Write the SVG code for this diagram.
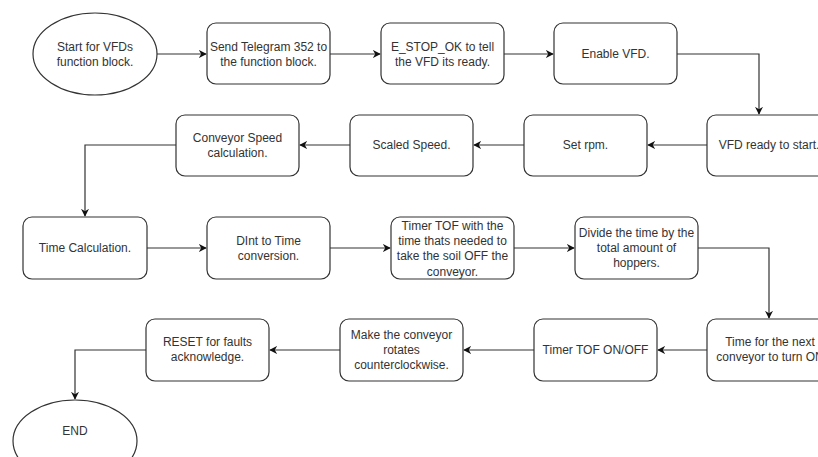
<svg xmlns="http://www.w3.org/2000/svg" width="818" height="457" viewBox="0 0 818 457">
<defs>
<style>
.n{fill:#fff;stroke:#333;stroke-width:1.2}
.t{font-family:"Liberation Sans",Arial,sans-serif;font-size:12px;fill:#333;text-anchor:middle}
.c{fill:none;stroke:#333;stroke-width:1.2;marker-end:url(#a)}
</style>
<marker id="a" viewBox="0 0 10 10" refX="9" refY="5" markerWidth="8" markerHeight="8" markerUnits="userSpaceOnUse" orient="auto">
<path d="M0,0 L10,5 L0,10 L3,5 Z" fill="#111"/>
</marker>
</defs>
<rect width="818" height="457" fill="#fff"/>
<g id="connectors">
<path class="c" d="M157,54 H206"/>
<path class="c" d="M330,54 H380"/>
<path class="c" d="M504,54 H553"/>
<path class="c" d="M677,54 H759 V114"/>
<path class="c" d="M707,145 H648"/>
<path class="c" d="M524,145 H474"/>
<path class="c" d="M350,145 H300"/>
<path class="c" d="M176,145 H85 V216"/>
<path class="c" d="M147,248 H206"/>
<path class="c" d="M330,248 H390"/>
<path class="c" d="M514,248 H574"/>
<path class="c" d="M698,248 H769 V318"/>
<path class="c" d="M707,350 H658"/>
<path class="c" d="M534,350 H464"/>
<path class="c" d="M340,350 H270"/>
<path class="c" d="M146,350 H75 V399"/>
</g>
<g id="start"><ellipse class="n" cx="95" cy="54" rx="62" ry="41"/><text class="t" x="95" y="51">Start for VFDs</text><text class="t" x="95" y="66">function block.</text></g>
<g id="telegram"><rect class="n" x="207" y="23" width="123" height="61" rx="9"/><text class="t" x="268.5" y="51">Send Telegram 352 to</text><text class="t" x="268.5" y="66">the function block.</text></g>
<g id="estop"><rect class="n" x="381" y="23" width="123" height="61" rx="9"/><text class="t" x="442.5" y="51">E_STOP_OK to tell</text><text class="t" x="442.5" y="66">the VFD its ready.</text></g>
<g id="enable"><rect class="n" x="554" y="23" width="123" height="61" rx="9"/><text class="t" x="615.5" y="58">Enable VFD.</text></g>
<g id="vfdready"><rect class="n" x="707" y="115" width="124" height="61" rx="9"/><text class="t" x="769" y="149">VFD ready to start.</text></g>
<g id="setrpm"><rect class="n" x="524" y="115" width="123" height="61" rx="9"/><text class="t" x="585.5" y="149">Set rpm.</text></g>
<g id="scaled"><rect class="n" x="350" y="115" width="123" height="61" rx="9"/><text class="t" x="411.5" y="149">Scaled Speed.</text></g>
<g id="convspeed"><rect class="n" x="176" y="115" width="123" height="61" rx="9"/><text class="t" x="237.5" y="142">Conveyor Speed</text><text class="t" x="237.5" y="157">calculation.</text></g>
<g id="timecalc"><rect class="n" x="23" y="217" width="124" height="62" rx="9"/><text class="t" x="85" y="252">Time Calculation.</text></g>
<g id="dint"><rect class="n" x="207" y="217" width="123" height="62" rx="9"/><text class="t" x="268.5" y="245">DInt to Time</text><text class="t" x="268.5" y="260">conversion.</text></g>
<g id="timertof"><rect class="n" x="391" y="217" width="123" height="62" rx="9"/><text class="t" x="452.5" y="230">Timer TOF with the</text><text class="t" x="452.5" y="245">time thats needed to</text><text class="t" x="452.5" y="260">take the soil OFF the</text><text class="t" x="452.5" y="276">conveyor.</text></g>
<g id="divide"><rect class="n" x="575" y="217" width="123" height="62" rx="9"/><text class="t" x="636.5" y="237">Divide the time by the</text><text class="t" x="636.5" y="252">total amount of</text><text class="t" x="636.5" y="267">hoppers.</text></g>
<g id="nextconv"><rect class="n" x="707" y="319" width="124" height="62" rx="9"/><text class="t" x="770" y="346">Time for the next</text><text class="t" x="770" y="361">conveyor to turn ON</text></g>
<g id="timeronoff"><rect class="n" x="534" y="319" width="123" height="62" rx="9"/><text class="t" x="595.5" y="354">Timer TOF ON/OFF</text></g>
<g id="ccw"><rect class="n" x="340" y="319" width="123" height="62" rx="9"/><text class="t" x="401.5" y="339">Make the conveyor</text><text class="t" x="401.5" y="354">rotates</text><text class="t" x="401.5" y="369">counterclockwise.</text></g>
<g id="reset"><rect class="n" x="146" y="319" width="123" height="62" rx="9"/><text class="t" x="207.5" y="346">RESET for faults</text><text class="t" x="207.5" y="361">acknowledge.</text></g>
<g id="end"><ellipse class="n" cx="75" cy="441" rx="62" ry="41"/><text class="t" x="75" y="435">END</text></g>
</svg>
